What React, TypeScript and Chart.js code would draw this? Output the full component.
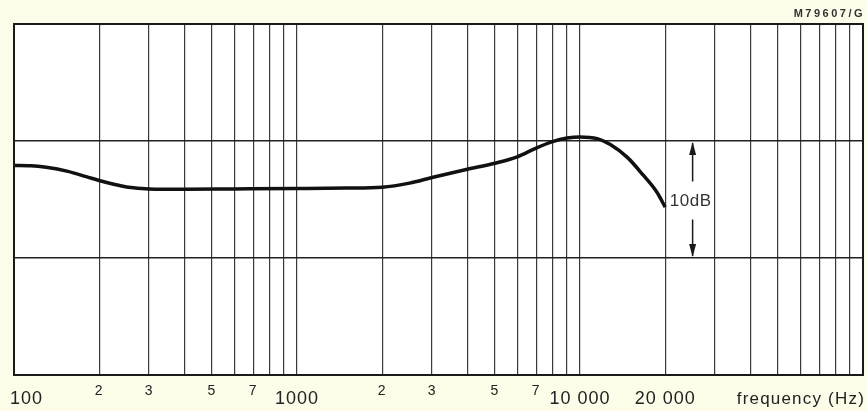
import React, { useEffect, useRef } from "react";
import { Chart, registerables } from "chart.js";

Chart.register(...registerables);

// Frequency response (relative level, dB)
const FREQ_HZ = [100, 115, 130, 155, 180, 200, 225, 250, 300, 400, 600, 1000, 1500, 2000, 2500, 3000, 4000, 5000, 6000, 7000, 8000, 9000, 10000, 11500, 12800, 14700, 16700, 18700, 20000];
const LEVEL_DB = [17.9, 17.88, 17.75, 17.4, 16.95, 16.62, 16.3, 16.07, 15.9, 15.87, 15.9, 15.94, 15.98, 16.05, 16.4, 16.88, 17.58, 18.1, 18.65, 19.4, 19.95, 20.25, 20.35, 20.2, 19.7, 18.6, 17.1, 15.62, 14.35];

const X_MIN = 100;
const X_MAX = 100000;
const Y_MIN = 0;
const Y_MAX = 30;
const Y_STEP = 10;

const MAJOR_LABEL_VALUES = [100, 1000, 10000, 20000];
const MAJOR_LABELS = ["100", "1000", "10 000", "20 000"];
const MINOR_LABEL_VALUES = [200, 300, 500, 700, 2000, 3000, 5000, 7000];
const MINOR_LABELS = ["2", "3", "5", "7", "2", "3", "5", "7"];

const AXIS_TITLE = "frequency (Hz)";
const FIGURE_CODE = "M79607/G";
const SCALE_TEXT = "10dB";
const SCALE_FREQ = 25000;
const SCALE_TOP_DB = 20;
const SCALE_BOTTOM_DB = 10;

const FONT = "'Liberation Sans', Arial, Helvetica, sans-serif";
const PAGE_BG = "#fcfce9";

function gridValues(): number[] {
  const out: number[] = [];
  for (let d = X_MIN; d < X_MAX; d *= 10) {
    for (let m = 1; m <= 9; m++) out.push(m * d);
  }
  out.push(X_MAX);
  return out;
}

const overlay = {
  id: "overlay",
  beforeDraw(chart: any) {
    const { ctx, chartArea: a } = chart;
    ctx.save();
    ctx.fillStyle = PAGE_BG;
    ctx.fillRect(0, 0, chart.width, chart.height);
    ctx.fillStyle = "#ffffff";
    ctx.fillRect(a.left, a.top, a.right - a.left, a.bottom - a.top);
    ctx.restore();
  },
  afterDraw(chart: any) {
    const { ctx, chartArea: a } = chart;
    const xs = chart.scales.x;
    const ys = chart.scales.y;
    ctx.save();
    // frame
    ctx.strokeStyle = "#1a1a1a";
    ctx.lineWidth = 2;
    ctx.strokeRect(a.left, a.top, a.right - a.left, a.bottom - a.top);

    // x labels
    ctx.fillStyle = "#222";
    ctx.textBaseline = "alphabetic";
    (ctx as any).letterSpacing = "1px";
    ctx.font = `18px ${FONT}`;
    MAJOR_LABEL_VALUES.forEach((v, i) => {
      const px = xs.getPixelForValue(v);
      if (i === 0) {
        ctx.textAlign = "left";
        ctx.fillText(MAJOR_LABELS[i], px - 4, a.bottom + 29);
      } else {
        ctx.textAlign = "center";
        ctx.fillText(MAJOR_LABELS[i], px, a.bottom + 29);
      }
    });
    ctx.font = `14px ${FONT}`;
    ctx.textAlign = "center";
    MINOR_LABEL_VALUES.forEach((v, i) => {
      const px = xs.getPixelForValue(v);
      ctx.fillText(MINOR_LABELS[i], px, a.bottom + 20);
    });
    ctx.font = `17px ${FONT}`;
    ctx.textAlign = "right";
    (ctx as any).letterSpacing = "1.2px";
    ctx.fillText(AXIS_TITLE, a.right + 2, a.bottom + 29);

    // figure code
    ctx.font = `bold 11px ${FONT}`;
    (ctx as any).letterSpacing = "2.5px";
    ctx.fillStyle = "#333";
    ctx.textAlign = "right";
    ctx.fillText(FIGURE_CODE, a.right + 2, a.top - 7);

    // 10dB scale arrow
    const ax = xs.getPixelForValue(SCALE_FREQ);
    const yTop = ys.getPixelForValue(SCALE_TOP_DB);
    const yBot = ys.getPixelForValue(SCALE_BOTTOM_DB);
    const yMid = (yTop + yBot) / 2;
    ctx.strokeStyle = "#1a1a1a";
    ctx.fillStyle = "#1a1a1a";
    ctx.lineWidth = 1.5;
    ctx.beginPath();
    ctx.moveTo(ax, yTop + 2);
    ctx.lineTo(ax, yMid - 18);
    ctx.moveTo(ax, yMid + 20);
    ctx.lineTo(ax, yBot - 2);
    ctx.stroke();
    const hw = 3.5, hh = 14;
    ctx.beginPath();
    ctx.moveTo(ax, yTop + 1);
    ctx.lineTo(ax - hw, yTop + hh);
    ctx.lineTo(ax + hw, yTop + hh);
    ctx.closePath();
    ctx.fill();
    ctx.beginPath();
    ctx.moveTo(ax, yBot - 1);
    ctx.lineTo(ax - hw, yBot - hh);
    ctx.lineTo(ax + hw, yBot - hh);
    ctx.closePath();
    ctx.fill();
    ctx.font = `17px ${FONT}`;
    (ctx as any).letterSpacing = "0.5px";
    ctx.textAlign = "center";
    ctx.textBaseline = "middle";
    ctx.fillStyle = "#333";
    ctx.fillText(SCALE_TEXT, ax - 2, yMid + 2);
    ctx.restore();
  },
};

export default function App() {
  const ref = useRef<HTMLCanvasElement>(null);
  useEffect(() => {
    document.body.style.margin = "0";
    document.body.style.background = PAGE_BG;
    const canvas = ref.current!;
    const data = FREQ_HZ.map((f, i) => ({ x: f, y: LEVEL_DB[i] }));
    const chart = new Chart(canvas, {
      type: "line",
      data: {
        datasets: [
          {
            data,
            borderColor: "#111",
            borderWidth: 3.5,
            pointRadius: 0,
            tension: 0.4,
            cubicInterpolationMode: "monotone",
            fill: false,
          },
        ],
      },
      options: {
        responsive: false,
        animation: false,
        events: [],
        layout: { padding: { left: 14, top: 24, right: 4, bottom: 36 } },
        plugins: { legend: { display: false }, tooltip: { enabled: false } },
        scales: {
          x: {
            type: "logarithmic",
            min: X_MIN,
            max: X_MAX,
            afterBuildTicks: (scale: any) => {
              scale.ticks = gridValues().map((v) => ({ value: v }));
            },
            ticks: { display: false },
            grid: { color: "#3a3a3a", lineWidth: 1.2, drawTicks: false },
            border: { display: false },
          },
          y: {
            min: Y_MIN,
            max: Y_MAX,
            ticks: { display: false, stepSize: Y_STEP },
            grid: { color: "#222", lineWidth: 1.5, drawTicks: false },
            border: { display: false },
          },
        },
      },
      plugins: [overlay],
    } as any);
    return () => chart.destroy();
  }, []);
  return <canvas ref={ref} width={867} height={411} style={{ display: "block" }} />;
}
